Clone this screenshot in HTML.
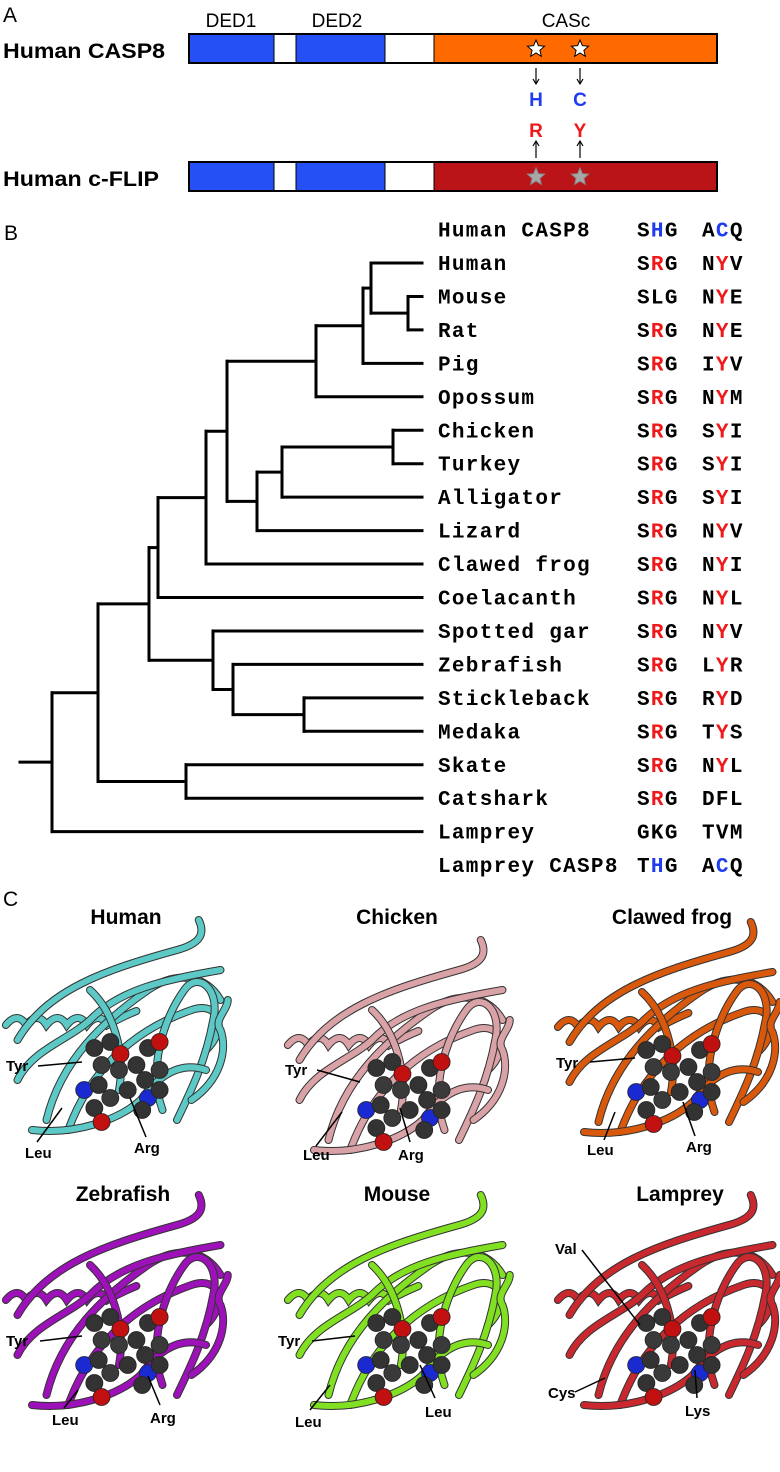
<!DOCTYPE html>
<html><head><meta charset="utf-8">
<style>
html,body{margin:0;padding:0;background:#fff;}
body{width:780px;height:1472px;overflow:hidden;position:relative;font-family:"Liberation Sans",sans-serif;}
svg{position:absolute;left:0;top:0;}
.mono{font-family:"Liberation Mono",monospace;font-weight:bold;font-size:21px;letter-spacing:1.3px;}
.lab{font-family:"Liberation Sans",sans-serif;font-weight:bold;}
</style></head>
<body>
<svg id="fig" width="780" height="1472" viewBox="0 0 780 1472">
  <g>
    <text x="3" y="22" font-size="21">A</text>
    <text x="231" y="27" font-size="19" text-anchor="middle">DED1</text>
    <text x="337" y="27" font-size="19" text-anchor="middle">DED2</text>
    <text x="566" y="27" font-size="19" text-anchor="middle">CASc</text>
    <text x="3" y="58" font-size="21" class="lab" textLength="162" lengthAdjust="spacingAndGlyphs">Human CASP8</text>
    <text x="3" y="186" font-size="21" class="lab" textLength="156" lengthAdjust="spacingAndGlyphs">Human c-FLIP</text>
    <g>
      <rect x="189" y="34" width="85" height="29" fill="#2450f5"/>
      <rect x="274" y="34" width="22" height="29" fill="#fff"/>
      <rect x="296" y="34" width="89" height="29" fill="#2450f5"/>
      <rect x="385" y="34" width="49" height="29" fill="#fff"/>
      <rect x="434" y="34" width="283" height="29" fill="#ff6a00"/>
      <rect x="189" y="34" width="528" height="29" fill="none" stroke="#000" stroke-width="2"/>
      <line x1="274" y1="34" x2="274" y2="63" stroke="#000" stroke-width="1"/>
      <line x1="296" y1="34" x2="296" y2="63" stroke="#000" stroke-width="1"/>
      <line x1="385" y1="34" x2="385" y2="63" stroke="#000" stroke-width="1"/>
      <line x1="434" y1="34" x2="434" y2="63" stroke="#000" stroke-width="1"/>
    </g>
    <g>
      <rect x="189" y="162" width="85" height="29" fill="#2450f5"/>
      <rect x="274" y="162" width="22" height="29" fill="#fff"/>
      <rect x="296" y="162" width="89" height="29" fill="#2450f5"/>
      <rect x="385" y="162" width="49" height="29" fill="#fff"/>
      <rect x="434" y="162" width="283" height="29" fill="#bb1418"/>
      <rect x="189" y="162" width="528" height="29" fill="none" stroke="#000" stroke-width="2"/>
      <line x1="274" y1="162" x2="274" y2="191" stroke="#000" stroke-width="1"/>
      <line x1="296" y1="162" x2="296" y2="191" stroke="#000" stroke-width="1"/>
      <line x1="385" y1="162" x2="385" y2="191" stroke="#000" stroke-width="1"/>
      <line x1="434" y1="162" x2="434" y2="191" stroke="#000" stroke-width="1"/>
    </g>
    <g id="stars"></g>
    <g stroke="#000" stroke-width="1.2" fill="none">
      <line x1="536" y1="68" x2="536" y2="83"/><path d="M533,79 L536,84 L539,79"/>
      <line x1="580" y1="68" x2="580" y2="83"/><path d="M577,79 L580,84 L583,79"/>
      <line x1="536" y1="158" x2="536" y2="142"/><path d="M533,146 L536,141 L539,146"/>
      <line x1="580" y1="158" x2="580" y2="142"/><path d="M577,146 L580,141 L583,146"/>
    </g>
    <text x="536" y="106" font-size="19" class="lab" fill="#1f3cf0" text-anchor="middle">H</text>
    <text x="580" y="106" font-size="19" class="lab" fill="#1f3cf0" text-anchor="middle">C</text>
    <text x="536" y="137" font-size="19" class="lab" fill="#f01818" text-anchor="middle">R</text>
    <text x="580" y="137" font-size="19" class="lab" fill="#f01818" text-anchor="middle">Y</text>
  </g>

  <g>
    <text x="4" y="240" font-size="21">B</text>
    <g id="tree"></g>
    <g id="rows"></g>
  </g>

  <g>
    <text x="3" y="906" font-size="21">C</text>
    <g id="prot"></g>
  </g>
</svg>
<script>
const NS="http://www.w3.org/2000/svg";
const leafNames=["Human","Mouse","Rat","Pig","Opossum","Chicken","Turkey","Alligator","Lizard","Clawed frog","Coelacanth","Spotted gar","Zebrafish","Stickleback","Medaka","Skate","Catshark","Lamprey"];
const leftSeq=["SRG","SLG","SRG","SRG","SRG","SRG","SRG","SRG","SRG","SRG","SRG","SRG","SRG","SRG","SRG","SRG","SRG","GKG"];
const rightSeq=["NYV","NYE","NYE","IYV","NYM","SYI","SYI","SYI","NYV","NYI","NYL","NYV","LYR","RYD","TYS","NYL","DFL","TVM"];
const leftHighlight=[1,0,1,1,1,1,1,1,1,1,1,1,1,1,1,1,1,0];
const rightHighlight=[1,1,1,1,1,1,1,1,1,1,1,1,1,1,1,1,0,0];
const MR=[408,1,2], HMR=[371,0,MR], P=[363,HMR,3], Mam=[316,P,4];
const CT=[393,5,6], CTA=[282,CT,7], Saur=[257,CTA,8], Amn=[227,Mam,Saur];
const Tet=[206,Amn,9], Sarc=[158,Tet,10];
const SM=[304,13,14], ZSM=[233,12,SM], Act=[213,11,ZSM], Ost=[149,Sarc,Act];
const Ch=[186,15,16], Gn=[98,Ost,Ch], Root=[52,Gn,17];
const rootStubX=20, tipX=422, rowTop=263, rowStep=33.45;

function el(tag,attrs,parent){const e=document.createElementNS(NS,tag);for(const k in attrs)e.setAttribute(k,attrs[k]);parent.appendChild(e);return e;}
const tree=document.getElementById('tree');
const ly=i=>rowTop+i*rowStep;
function draw(n,parentX){
  let y,x;
  if(typeof n==='number'){y=ly(n);x=tipX;}
  else{x=n[0];const y1=draw(n[1],x),y2=draw(n[2],x);y=(y1+y2)/2;
    const v=el('line',{x1:x,y1:y1,x2:x,y2:y2,stroke:'#000','stroke-width':3,'stroke-linecap':'square'},tree);
    
    }
  const h=el('line',{x1:parentX,y1:y,x2:x,y2:y,stroke:'#000','stroke-width':3,'stroke-linecap':'square'},tree);
  
  
  return y;
}
draw(Root,rootStubX);

const rows=document.getElementById('rows');
function seqText(x,y,s,hi,col){
  const t=el('text',{x:x,y:y,class:'mono'},rows);
  for(let k=0;k<3;k++){const sp=el('tspan',{fill:(k===1&&hi)?col:'#000'},t);sp.textContent=s[k];}
  return t;
}
function row(y,name,l,r,hl,hr,col){
  const t=el('text',{x:438,y:y+7,class:'mono'},rows);t.textContent=name;
  
  
  const a=seqText(637,y+7,l,hl,col);
  
  
  const b=seqText(702,y+7,r,hr,col);
  
  
}
row(ly(-1),"Human CASP8","SHG","ACQ",1,1,'#1f3cf0');
leafNames.forEach((n,i)=>row(ly(i),n,leftSeq[i],rightSeq[i],leftHighlight[i],rightHighlight[i],'#f01818'));
row(ly(18),"Lamprey CASP8","THG","ACQ",1,1,'#1f3cf0');

const stars=document.getElementById('stars');
function star(cx,cy,r,fill,stroke){
  let d='';for(let k=0;k<10;k++){const a=-Math.PI/2+k*Math.PI/5,rr=k%2?r*0.45:r;d+=(k?'L':'M')+(cx+rr*Math.cos(a)).toFixed(1)+','+(cy+rr*Math.sin(a)).toFixed(1);}
  const s=el('path',{d:d+'Z',fill:fill,stroke:stroke,'stroke-width':1},stars);
  
  
}
star(536,49,9,'#fff','#000');star(580,49,9,'#fff','#000');
star(536,177,9,'#a8a8a8','#888');star(580,177,9,'#a8a8a8','#888');

const prot=document.getElementById('prot');
const panels=[
 {t:"Human",cx:126,ty:924,ox:3,oy:930,c:"#5cc9c6",labs:[["Tyr",6,1071,38,1066,82,1062],["Leu",25,1158,37,1142,62,1108],["Arg",134,1153,146,1137,130,1098]]},
 {t:"Chicken",cx:397,ty:924,ox:285,oy:950,c:"#d9a2a6",labs:[["Tyr",285,1075,317,1070,360,1082],["Leu",303,1160,316,1146,342,1112],["Arg",398,1160,410,1142,400,1108]]},
 {t:"Clawed frog",cx:672,ty:924,ox:555,oy:932,c:"#d8580c",labs:[["Tyr",556,1068,590,1062,635,1058],["Leu",587,1155,604,1140,615,1112],["Arg",686,1152,695,1136,683,1102]]},
 {t:"Zebrafish",cx:123,ty:1201,ox:3,oy:1205,c:"#9c12b8",labs:[["Tyr",6,1346,40,1341,82,1336],["Leu",52,1425,64,1408,78,1390],["Arg",150,1423,160,1405,148,1376]]},
 {t:"Mouse",cx:397,ty:1201,ox:285,oy:1205,c:"#80e021",labs:[["Tyr",278,1346,312,1341,355,1336],["Leu",295,1427,310,1410,330,1385],["Leu",425,1417,435,1398,420,1365]]},
 {t:"Lamprey",cx:680,ty:1201,ox:555,oy:1205,c:"#c8282e",labs:[["Val",555,1254,582,1250,640,1325],["Cys",548,1398,575,1392,605,1378],["Lys",685,1416,697,1398,695,1370]]}
];
const ribbons=[
 "M2,95 q8,-14 14,0 q8,-14 14,0 q8,-14 14,0 q8,-14 14,0 q8,-14 14,0 q10,-8 20,-14",
 "M10,110 C30,60 70,40 120,20 C135,14 140,5 135,-10",
 "M30,190 C40,130 70,90 100,60 C120,40 140,45 150,70",
 "M45,200 C60,140 90,100 130,80 C150,70 155,100 140,120",
 "M10,150 C20,120 45,110 60,90 C80,60 110,50 150,40",
 "M110,180 C100,140 110,90 125,60 C135,40 150,60 145,90 C140,130 130,160 120,190",
 "M130,170 C150,150 155,120 150,100 C145,90 155,80 155,70",
 "M20,200 C50,205 80,190 95,170 C105,150 120,130 140,140",
 "M60,60 C75,80 85,120 80,160"
];
const spheres=[[55,118,"#333"],[66,112,"#333"],[73,124,"#c01010"],[60,135,"#3a3a3a"],[72,140,"#3a3a3a"],[84,135,"#333"],[92,118,"#333"],[100,112,"#c01010"],[90,150,"#333"],[100,140,"#3a3a3a"],[48,160,"#1a2ad0"],[58,155,"#333"],[66,168,"#3a3a3a"],[78,160,"#333"],[55,178,"#333"],[60,192,"#c01010"],[92,168,"#1a2ad0"],[100,160,"#333"],[88,180,"#333"]];
const SX=1.45;
panels.forEach(p=>{
  const g=el('g',{},prot);
  
  
  const tt=el('text',{x:p.cx,y:p.ty,'text-anchor':'middle','font-size':21,class:'lab'},g);tt.textContent=p.t;
  
  
  const rg=el('g',{transform:`translate(${p.ox},${p.oy}) scale(${SX},1)`},g);
  ribbons.forEach(d=>{
    el('path',{d:d,fill:'none',stroke:'#333','stroke-width':8,'stroke-linecap':'round','vector-effect':'non-scaling-stroke'},rg);
    el('path',{d:d,fill:'none',stroke:p.c,'stroke-width':6,'stroke-linecap':'round','vector-effect':'non-scaling-stroke'},rg);
  });
  spheres.forEach(s=>{el('circle',{cx:p.ox+(s[0]+8)*SX,cy:p.oy+s[1],r:8.5,fill:s[2],stroke:'#222','stroke-width':0.8},g);});
  p.labs.forEach(l=>{
    const t=el('text',{x:l[1],y:l[2],'font-size':15,class:'lab'},g);t.textContent=l[0];
    
    
    el('line',{x1:l[3],y1:l[4],x2:l[5],y2:l[6],stroke:'#000','stroke-width':1.5},g);
  });
});
</script>
</body></html>
